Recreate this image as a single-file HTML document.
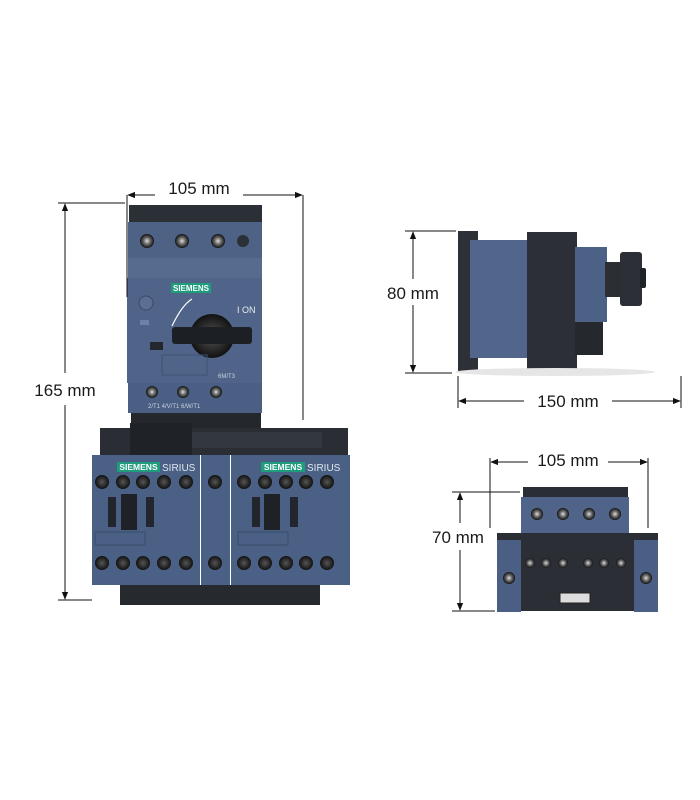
<!DOCTYPE html>
<html><head><meta charset="utf-8"><style>
html,body{margin:0;padding:0;background:#fff;}
svg{display:block}
text{font-family:"Liberation Sans",sans-serif;}
</style></head><body>
<svg width="700" height="800" viewBox="0 0 700 800" xmlns="http://www.w3.org/2000/svg">
<defs>
<marker id="a" viewBox="0 0 10 10" refX="9" refY="5" markerWidth="8" markerHeight="8" orient="auto-start-reverse"><path d="M0,1 L10,5 L0,9 z" fill="#111"/></marker>
<radialGradient id="sc"><stop offset="0" stop-color="#ddd"/><stop offset="0.5" stop-color="#666"/><stop offset="1" stop-color="#111"/></radialGradient>
<radialGradient id="bs"><stop offset="0" stop-color="#555"/><stop offset="1" stop-color="#111"/></radialGradient>
</defs>
<rect width="700" height="800" fill="#fff"/>

<!-- ===== Main device ===== -->
<g stroke="none">
<!-- breaker top -->
<rect x="129" y="205" width="133" height="20" fill="#2b2f36"/>
<rect x="128" y="222" width="134" height="56" fill="#4d6285"/>
<rect x="128" y="258" width="134" height="20" fill="#566b8d"/>
<circle cx="147" cy="241" r="7" fill="url(#sc)"/>
<circle cx="182" cy="241" r="7" fill="url(#sc)"/>
<circle cx="218" cy="241" r="7" fill="url(#sc)"/>
<circle cx="243" cy="241" r="6" fill="#2b2f36"/>
<!-- body -->
<rect x="127" y="278" width="135" height="105" fill="#4f6488"/>
<rect x="171" y="283" width="40" height="10" fill="#1e9c7c"/>
<text x="191" y="291" font-size="8" font-weight="bold" fill="#fff" text-anchor="middle">SIEMENS</text>
<circle cx="146" cy="303" r="7" fill="#5a6f93" stroke="#3a4a66"/>
<rect x="140" y="320" width="9" height="5" fill="#6c82a6"/>
<rect x="150" y="342" width="13" height="8" fill="#23272e"/>
<path d="M172 326 Q182 305 192 299" stroke="#fff" fill="none" stroke-width="1.2"/>
<text x="237" y="313" font-size="9" fill="#e8ecf3">I ON</text>
<circle cx="212" cy="336" r="22" fill="url(#bs)"/>
<rect x="172" y="327" width="80" height="17" rx="3" fill="#1c1f24"/>
<rect x="162" y="355" width="45" height="20" fill="none" stroke="#3f5274"/>
<text x="218" y="378" font-size="6" fill="#c9d2e0">6M/T3</text>
<rect x="128" y="383" width="134" height="30" fill="#4a5f83"/>
<circle cx="152" cy="392" r="6" fill="url(#sc)"/>
<circle cx="183" cy="392" r="6" fill="url(#sc)"/>
<circle cx="216" cy="392" r="6" fill="url(#sc)"/>
<text x="148" y="408" font-size="6" fill="#c9d2e0">2/T1   4/V/T1   6/W/T1</text>
<rect x="131" y="413" width="130" height="17" fill="#24272c"/>
<!-- contactor top rail -->
<rect x="100" y="428" width="248" height="27" fill="#2a2d33"/>
<rect x="130" y="423" width="62" height="33" fill="#1f2227"/>
<rect x="192" y="432" width="130" height="16" fill="#33373e"/>
<!-- contactors -->
<rect x="92" y="455" width="108" height="130" fill="#4b6085"/>
<rect x="201" y="455" width="29" height="130" fill="#4b6085"/>
<rect x="231" y="455" width="119" height="130" fill="#4b6085"/>
<rect x="117" y="462" width="43" height="10" fill="#1e9c7c"/>
<text x="138.5" y="470" font-size="8.5" font-weight="bold" fill="#fff" text-anchor="middle">SIEMENS</text>
<text x="162" y="471" font-size="10" fill="#e0e6ef">SIRIUS</text>
<rect x="261" y="462" width="44" height="10" fill="#1e9c7c"/>
<text x="283" y="470" font-size="8.5" font-weight="bold" fill="#fff" text-anchor="middle">SIEMENS</text>
<text x="307" y="471" font-size="10" fill="#e0e6ef">SIRIUS</text>
<g fill="url(#bs)">
<circle cx="102" cy="482" r="7"/><circle cx="123" cy="482" r="7"/><circle cx="143" cy="482" r="7"/><circle cx="164" cy="482" r="7"/><circle cx="186" cy="482" r="7"/>
<circle cx="215" cy="482" r="7"/>
<circle cx="244" cy="482" r="7"/><circle cx="265" cy="482" r="7"/><circle cx="286" cy="482" r="7"/><circle cx="306" cy="482" r="7"/><circle cx="327" cy="482" r="7"/>
<circle cx="102" cy="563" r="7"/><circle cx="123" cy="563" r="7"/><circle cx="143" cy="563" r="7"/><circle cx="164" cy="563" r="7"/><circle cx="186" cy="563" r="7"/>
<circle cx="215" cy="563" r="7"/>
<circle cx="244" cy="563" r="7"/><circle cx="265" cy="563" r="7"/><circle cx="286" cy="563" r="7"/><circle cx="306" cy="563" r="7"/><circle cx="327" cy="563" r="7"/>
</g>
<rect x="108" y="497" width="8" height="30" fill="#22262c"/><rect x="121" y="494" width="16" height="36" fill="#1e2126"/><rect x="146" y="497" width="8" height="30" fill="#22262c"/>
<rect x="252" y="497" width="8" height="30" fill="#22262c"/><rect x="264" y="494" width="16" height="36" fill="#1e2126"/><rect x="290" y="497" width="8" height="30" fill="#22262c"/>
<rect x="95" y="532" width="50" height="13" fill="none" stroke="#3a4c6b"/><rect x="238" y="532" width="50" height="13" fill="none" stroke="#3a4c6b"/>
<rect x="120" y="585" width="200" height="20" fill="#26292e"/>
</g>

<!-- dimension lines main -->
<g stroke="#111" stroke-width="1" fill="none">
<line x1="127" y1="195" x2="127" y2="297"/>
<line x1="303" y1="195" x2="303" y2="420"/>
<line x1="128" y1="195" x2="155" y2="195" marker-start="url(#a)"/>
<line x1="243" y1="195" x2="302" y2="195" marker-end="url(#a)"/>
<line x1="58" y1="203" x2="125" y2="203"/>
<line x1="58" y1="600" x2="92" y2="600"/>
<line x1="65" y1="204" x2="65" y2="373" marker-start="url(#a)"/>
<line x1="65" y1="405" x2="65" y2="599" marker-end="url(#a)"/>
</g>
<text x="199" y="194" font-size="17" fill="#1a1a1a" text-anchor="middle">105 mm</text>
<text x="65" y="396" font-size="17" fill="#1a1a1a" text-anchor="middle">165 mm</text>

<!-- ===== Side view ===== -->
<g>
<rect x="458" y="231" width="20" height="140" fill="#2d3036"/>
<rect x="470" y="240" width="67" height="118" fill="#51668a"/>
<rect x="527" y="232" width="50" height="137" fill="#2c2f35"/>
<rect x="575" y="247" width="32" height="75" fill="#4c6186"/>
<rect x="575" y="322" width="28" height="33" fill="#25282d"/>
<rect x="605" y="262" width="20" height="35" fill="#2b2e33"/>
<rect x="620" y="252" width="22" height="54" rx="3" fill="#2c2f35"/>
<rect x="640" y="268" width="6" height="20" rx="2" fill="#1f2226"/>
<ellipse cx="555" cy="372" rx="100" ry="4" fill="#e6e6e6"/>
</g>
<g stroke="#111" stroke-width="1" fill="none">
<line x1="405" y1="231" x2="456" y2="231"/>
<line x1="405" y1="373" x2="452" y2="373"/>
<line x1="413" y1="232" x2="413" y2="279" marker-start="url(#a)"/>
<line x1="413" y1="305" x2="413" y2="372" marker-end="url(#a)"/>
<line x1="458" y1="376" x2="458" y2="408"/>
<line x1="681" y1="376" x2="681" y2="408"/>
<line x1="459" y1="401" x2="524" y2="401" marker-start="url(#a)"/>
<line x1="612" y1="401" x2="680" y2="401" marker-end="url(#a)"/>
</g>
<text x="413" y="299" font-size="17" fill="#1a1a1a" text-anchor="middle">80 mm</text>
<text x="568" y="407" font-size="17" fill="#1a1a1a" text-anchor="middle">150 mm</text>

<!-- ===== Front small ===== -->
<g>
<rect x="523" y="487" width="105" height="12" fill="#2a2d33"/>
<rect x="521" y="497" width="108" height="36" fill="#4f6488"/>
<g fill="url(#sc)"><circle cx="537" cy="514" r="6"/><circle cx="563" cy="514" r="6"/><circle cx="589" cy="514" r="6"/><circle cx="615" cy="514" r="6"/></g>
<rect x="497" y="533" width="161" height="78" fill="#2b2e34"/>
<rect x="497" y="540" width="24" height="72" fill="#4a5f83"/>
<rect x="634" y="540" width="24" height="72" fill="#4a5f83"/>
<circle cx="509" cy="578" r="6" fill="url(#sc)"/><circle cx="646" cy="578" r="6" fill="url(#sc)"/>
<g fill="url(#sc)"><circle cx="530" cy="563" r="5"/><circle cx="546" cy="563" r="5"/><circle cx="563" cy="563" r="5"/><circle cx="588" cy="563" r="5"/><circle cx="604" cy="563" r="5"/><circle cx="621" cy="563" r="5"/></g>
<rect x="560" y="593" width="30" height="10" fill="#ddd" stroke="#222"/>
</g>
<g stroke="#111" stroke-width="1" fill="none">
<line x1="490" y1="458" x2="490" y2="528"/>
<line x1="648" y1="458" x2="648" y2="528"/>
<line x1="491" y1="462" x2="528" y2="462" marker-start="url(#a)"/>
<line x1="608" y1="462" x2="647" y2="462" marker-end="url(#a)"/>
<line x1="452" y1="492" x2="520" y2="492"/>
<line x1="452" y1="611" x2="495" y2="611"/>
<line x1="460" y1="493" x2="460" y2="523" marker-start="url(#a)"/>
<line x1="460" y1="550" x2="460" y2="610" marker-end="url(#a)"/>
</g>
<text x="568" y="466" font-size="17" fill="#1a1a1a" text-anchor="middle">105 mm</text>
<text x="458" y="543" font-size="17" fill="#1a1a1a" text-anchor="middle">70 mm</text>
</svg>
</body></html>
